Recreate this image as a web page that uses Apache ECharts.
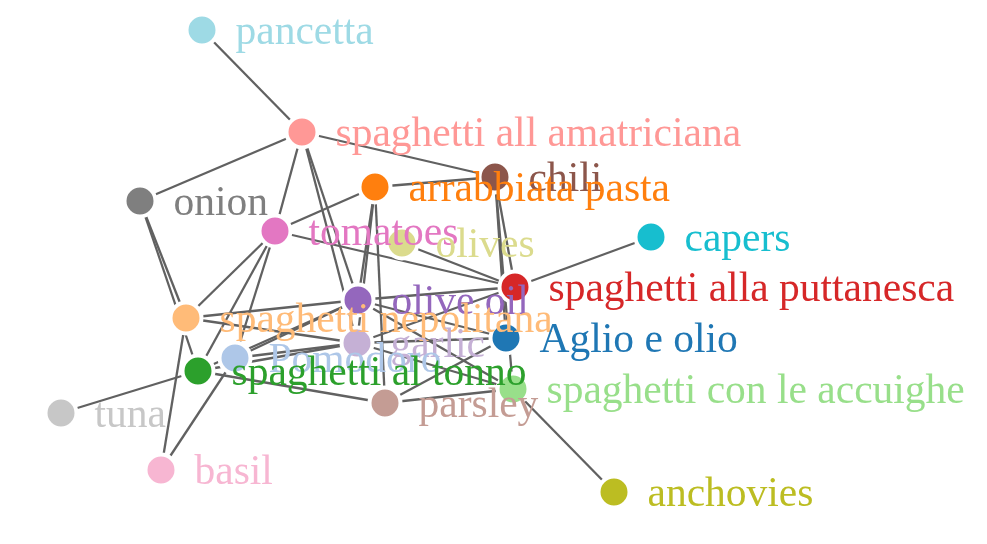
<!DOCTYPE html>
<html lang="en">
<head>
  <meta charset="UTF-8">
  <title>spaghetti</title>
  <script src="https://cdn.jsdelivr.net/npm/echarts@6/dist/echarts.min.js"></script>
  <style>
    html, body { margin: 0; padding: 0; background: #fff; }
    #chart { width: 987px; height: 544px; }
  </style>
</head>
<body>
<div id="chart"></div>
<script type="text/javascript">
  // nodes: name, colour, layout position (x, y)
  var nodeNames = ['pancetta', 'spaghetti all amatriciana', 'chili', 'arrabbiata pasta', 'onion',
    'tomatoes', 'olives', 'capers', 'spaghetti alla puttanesca', 'olive oil',
    'spaghetti nepolitana', 'garlic', 'Aglio e olio', 'Pomodoro', 'spaghetti al tonno',
    'spaghetti con le accuighe', 'parsley', 'tuna', 'basil', 'anchovies'];
  var nodeColors = ['#9edae5', '#ff9896', '#8c564b', '#ff7f0e', '#7f7f7f',
    '#e377c2', '#dbdb8d', '#17becf', '#d62728', '#9467bd',
    '#ffbb78', '#c5b0d5', '#1f77b4', '#aec7e8', '#2ca02c',
    '#98df8a', '#c49c94', '#c7c7c7', '#f7b6d2', '#bcbd22'];
  var nodeX = [202, 302, 495, 375, 140, 275, 402, 651, 515, 358, 186, 357, 506, 235, 198, 513, 385, 61, 161, 614];
  var nodeY = [30, 132, 177, 187, 201, 231, 243, 237, 287, 300, 318, 343, 338, 358, 371, 389, 403, 413, 470, 492];

  // links: recipe -> ingredient
  var linkSource = [
    'spaghetti all amatriciana', 'spaghetti all amatriciana', 'spaghetti all amatriciana', 'spaghetti all amatriciana', 'spaghetti all amatriciana', 'spaghetti all amatriciana',
    'arrabbiata pasta', 'arrabbiata pasta', 'arrabbiata pasta', 'arrabbiata pasta', 'arrabbiata pasta',
    'spaghetti alla puttanesca', 'spaghetti alla puttanesca', 'spaghetti alla puttanesca', 'spaghetti alla puttanesca', 'spaghetti alla puttanesca', 'spaghetti alla puttanesca',
    'spaghetti nepolitana', 'spaghetti nepolitana', 'spaghetti nepolitana', 'spaghetti nepolitana', 'spaghetti nepolitana',
    'Aglio e olio', 'Aglio e olio', 'Aglio e olio', 'Aglio e olio',
    'Pomodoro', 'Pomodoro', 'Pomodoro', 'Pomodoro',
    'spaghetti al tonno', 'spaghetti al tonno', 'spaghetti al tonno', 'spaghetti al tonno', 'spaghetti al tonno', 'spaghetti al tonno',
    'spaghetti con le accuighe', 'spaghetti con le accuighe', 'spaghetti con le accuighe', 'spaghetti con le accuighe', 'spaghetti con le accuighe'
  ];
  var linkTarget = [
    'pancetta', 'onion', 'chili', 'tomatoes', 'olive oil', 'garlic',
    'chili', 'tomatoes', 'olive oil', 'garlic', 'parsley',
    'capers', 'olives', 'chili', 'tomatoes', 'olive oil', 'garlic',
    'onion', 'tomatoes', 'olive oil', 'garlic', 'basil',
    'chili', 'olive oil', 'garlic', 'parsley',
    'tomatoes', 'olive oil', 'garlic', 'basil',
    'onion', 'tomatoes', 'tuna', 'olive oil', 'garlic', 'parsley',
    'anchovies', 'chili', 'olive oil', 'garlic', 'parsley'
  ];

  var chart = echarts.init(document.getElementById('chart'));

  var nodes = [];
  for (var i = 0; i < nodeNames.length; i++) {
    nodes.push({
      name: nodeNames[i],
      value: [nodeX[i], nodeY[i]],
      itemStyle: {color: nodeColors[i]},
      label: {color: nodeColors[i]}
    });
  }
  var links = [];
  for (var j = 0; j < linkSource.length; j++) {
    links.push({source: linkSource[j], target: linkTarget[j]});
  }

  chart.setOption({
    animation: false,
    grid: {left: 0, right: 0, top: 0, bottom: 0},
    xAxis: {type: 'value', min: 0, max: 987, show: false},
    yAxis: {type: 'value', min: 0, max: 544, inverse: true, show: false},
    series: [{
      type: 'graph',
      layout: 'none',
      coordinateSystem: 'cartesian2d',
      symbol: 'circle',
      symbolSize: 31,
      itemStyle: {borderColor: '#fff', borderWidth: 4},
      lineStyle: {color: '#616161', width: 2.3, opacity: 1, curveness: 0},
      label: {
        show: true,
        position: 'right',
        distance: 16,
        offset: [0, 3],
        fontFamily: 'Liberation Serif, Times New Roman, serif',
        fontSize: 41.5
      },
      emphasis: {disabled: true},
      data: nodes,
      links: links
    }]
  });
</script>
</body>
</html>
